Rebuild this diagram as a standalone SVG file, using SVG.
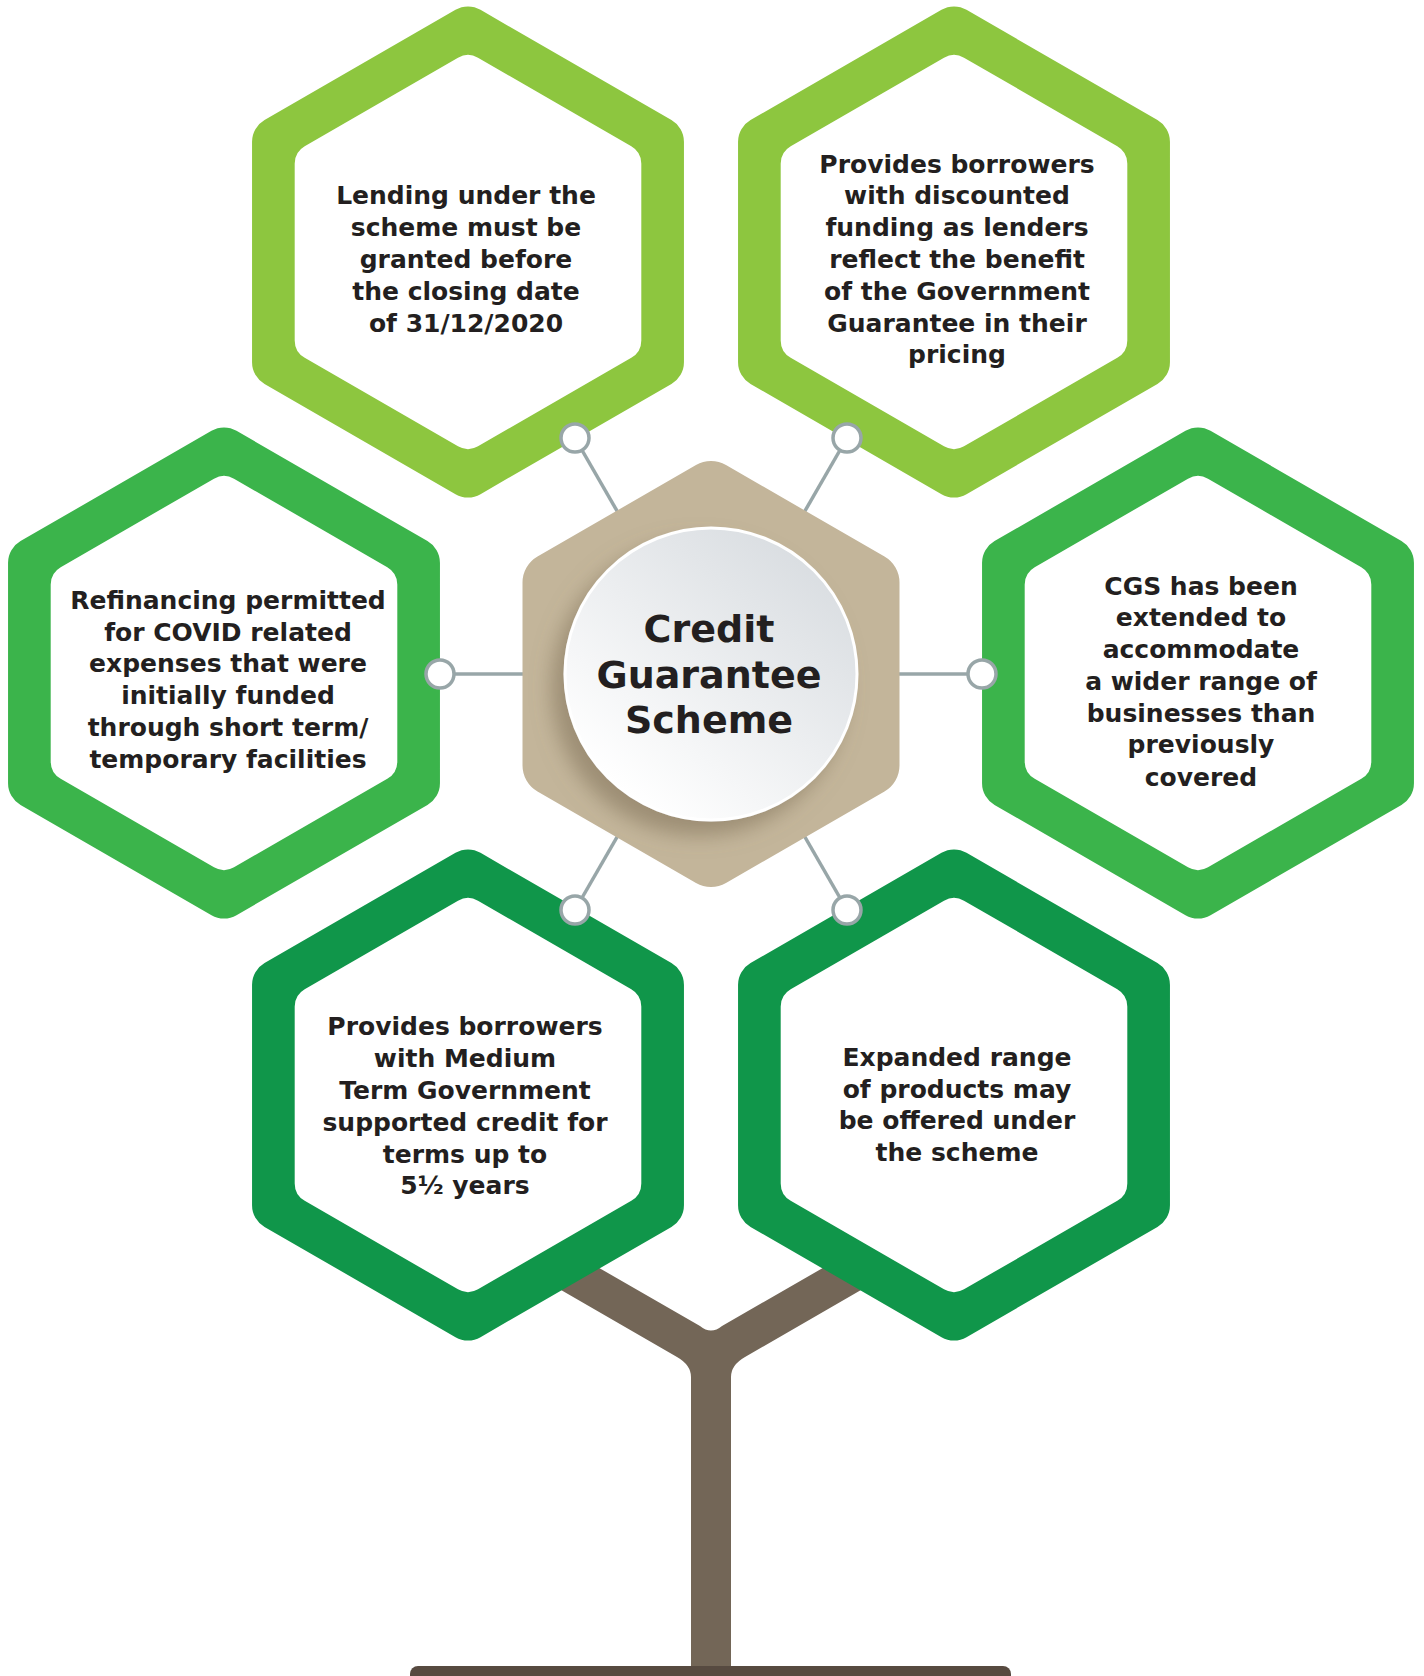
<svg xmlns="http://www.w3.org/2000/svg" xmlns:xlink="http://www.w3.org/1999/xlink" width="1424" height="1676" viewBox="0 0 1424 1676">
  <style>
    .ring { stroke-width: 50; stroke-linejoin: round; }
    .lime { fill: #8dc63f; stroke: #8dc63f; }
    .mid { fill: #3bb44b; stroke: #3bb44b; }
    .deep { fill: #10964a; stroke: #10964a; }
    .hole { fill: #ffffff; stroke: #ffffff; stroke-width: 40; stroke-linejoin: round; }
    .hub { fill: #c3b59a; stroke: #c3b59a; stroke-width: 60; stroke-linejoin: round; }
    .label { font-family: "DejaVu Sans", "Liberation Sans", sans-serif; font-weight: 700; font-size: 25px; fill: #231f20; text-anchor: middle; }
    .title { font-family: "DejaVu Sans", "Liberation Sans", sans-serif; font-weight: 700; font-size: 38px; fill: #231f20; text-anchor: middle; }
    .link { stroke: #98a6a8; stroke-width: 3.5; fill: none; }
    .dot { fill: #ffffff; stroke: #98a6a8; stroke-width: 3.5; }
  </style>
  <defs>
    <!-- pointy-top hexagons, corners rounded by the round stroke join -->
    <polygon id="hexOuter" points="0,-220.5 190.95,-110.25 190.95,110.25 0,220.5 -190.95,110.25 -190.95,-110.25"/>
    <polygon id="hexInner" points="0,-177 153.3,-88.5 153.3,88.5 0,177 -153.3,88.5 -153.3,-88.5"/>
    <polygon id="hexHub" points="0,-183 158.5,-91.5 158.5,91.5 0,183 -158.5,91.5 -158.5,-91.5"/>
    <linearGradient id="discFill" x1="0.85" y1="0.1" x2="0.2" y2="0.9">
      <stop offset="0" stop-color="#d9dde1"/>
      <stop offset="1" stop-color="#ffffff"/>
    </linearGradient>
    <filter id="discShadow" x="-30%" y="-30%" width="160%" height="160%">
      <feDropShadow dx="-12" dy="14" stdDeviation="10" flood-color="#7d6e55" flood-opacity="0.55"/>
    </filter>
  </defs>

  <rect width="1424" height="1676" fill="#ffffff"/>

  <!-- tree: branches, trunk and ground line -->
  <g id="tree">
    <path fill="#736657" d="M520,1222.4 L700,1326 Q711,1335 722,1326 L902,1222.4 L902,1266.3 L745,1357 Q731,1365 731,1377 L731,1672 L691,1672 L691,1377 Q691,1365 677,1357 L520,1266.3 Z"/>
    <rect x="410" y="1666" width="601" height="20" rx="8" fill="#574a40"/>
  </g>

  <!-- outer hexagons (tspans kept adjacent so no collapsed space shifts the centring) -->
  <g id="node-closing-date">
    <use xlink:href="#hexOuter" x="468" y="252" class="ring lime"/>
    <use xlink:href="#hexInner" x="468" y="252" class="hole"/>
    <text class="label"><tspan x="466" y="204">Lending under the</tspan><tspan x="466" y="236">scheme must be</tspan><tspan x="466" y="268">granted before</tspan><tspan x="466" y="300">the closing date</tspan><tspan x="466" y="332">of 31/12/2020</tspan></text>
  </g>

  <g id="node-discounted-funding">
    <use xlink:href="#hexOuter" x="954" y="252" class="ring lime"/>
    <use xlink:href="#hexInner" x="954" y="252" class="hole"/>
    <text class="label"><tspan x="957" y="173">Provides borrowers</tspan><tspan x="957" y="204">with discounted</tspan><tspan x="957" y="236">funding as lenders</tspan><tspan x="957" y="268">reflect the benefit</tspan><tspan x="957" y="300">of the Government</tspan><tspan x="957" y="332">Guarantee in their</tspan><tspan x="957" y="363">pricing</tspan></text>
  </g>

  <g id="node-refinancing">
    <use xlink:href="#hexOuter" x="224" y="673" class="ring mid"/>
    <use xlink:href="#hexInner" x="224" y="673" class="hole"/>
    <text class="label"><tspan x="228" y="609">Refinancing permitted</tspan><tspan x="228" y="641">for COVID related</tspan><tspan x="228" y="672">expenses that were</tspan><tspan x="228" y="704">initially funded</tspan><tspan x="228" y="736">through short term/</tspan><tspan x="228" y="768">temporary facilities</tspan></text>
  </g>

  <g id="node-wider-range">
    <use xlink:href="#hexOuter" x="1198" y="673" class="ring mid"/>
    <use xlink:href="#hexInner" x="1198" y="673" class="hole"/>
    <text class="label"><tspan x="1201" y="595">CGS has been</tspan><tspan x="1201" y="626">extended to</tspan><tspan x="1201" y="658">accommodate</tspan><tspan x="1201" y="690">a wider range of</tspan><tspan x="1201" y="722">businesses than</tspan><tspan x="1201" y="753">previously</tspan><tspan x="1201" y="786">covered</tspan></text>
  </g>

  <g id="node-medium-term">
    <use xlink:href="#hexOuter" x="468" y="1095" class="ring deep"/>
    <use xlink:href="#hexInner" x="468" y="1095" class="hole"/>
    <text class="label"><tspan x="465" y="1035">Provides borrowers</tspan><tspan x="465" y="1067">with Medium</tspan><tspan x="465" y="1099">Term Government</tspan><tspan x="465" y="1131">supported credit for</tspan><tspan x="465" y="1163">terms up to</tspan><tspan x="465" y="1194">5½ years</tspan></text>
  </g>

  <g id="node-products">
    <use xlink:href="#hexOuter" x="954" y="1095" class="ring deep"/>
    <use xlink:href="#hexInner" x="954" y="1095" class="hole"/>
    <text class="label"><tspan x="957" y="1066">Expanded range</tspan><tspan x="957" y="1098">of products may</tspan><tspan x="957" y="1129">be offered under</tspan><tspan x="957" y="1161">the scheme</tspan></text>
  </g>

  <!-- spokes from the hub to each outer hexagon -->
  <g id="connectors">
    <line class="link" x1="711" y1="674" x2="575" y2="438"/>
    <line class="link" x1="711" y1="674" x2="847" y2="438"/>
    <line class="link" x1="711" y1="674" x2="440" y2="674"/>
    <line class="link" x1="711" y1="674" x2="982" y2="674"/>
    <line class="link" x1="711" y1="674" x2="575" y2="910"/>
    <line class="link" x1="711" y1="674" x2="847" y2="910"/>
    <circle class="dot" cx="575" cy="438" r="14"/>
    <circle class="dot" cx="847" cy="438" r="14"/>
    <circle class="dot" cx="440" cy="674" r="14"/>
    <circle class="dot" cx="982" cy="674" r="14"/>
    <circle class="dot" cx="575" cy="910" r="14"/>
    <circle class="dot" cx="847" cy="910" r="14"/>
  </g>

  <!-- central hub -->
  <g id="node-hub">
    <use xlink:href="#hexHub" x="711" y="674" class="hub"/>
    <circle cx="711" cy="674" r="146" fill="url(#discFill)" stroke="#ffffff" stroke-width="3" filter="url(#discShadow)"/>
    <text class="title"><tspan x="709" y="642">Credit</tspan><tspan x="709" y="688">Guarantee</tspan><tspan x="709" y="733">Scheme</tspan></text>
  </g>
</svg>
